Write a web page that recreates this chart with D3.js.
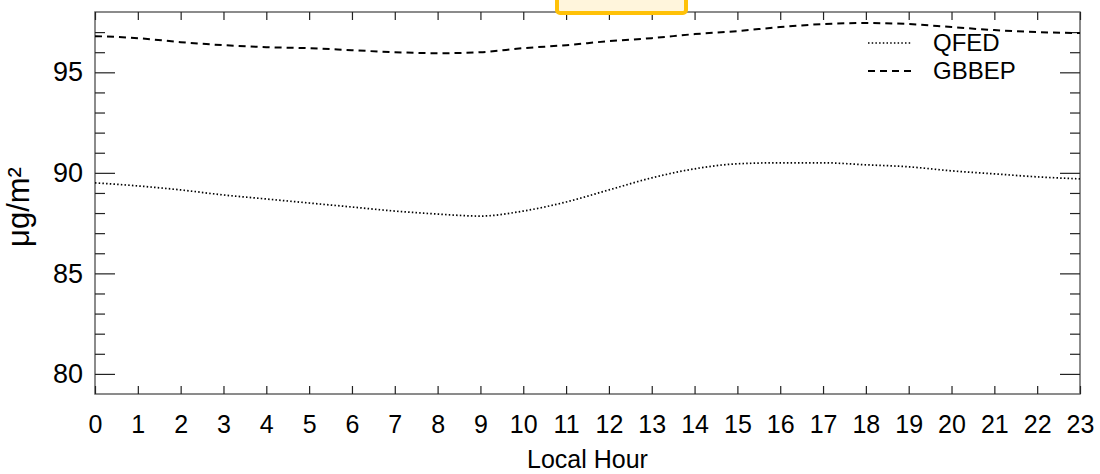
<!DOCTYPE html>
<html>
<head>
<meta charset="utf-8">
<script src="https://cdn.jsdelivr.net/npm/d3@7"></script>
<style>
  body { margin: 0; background: #fff; }
  text { font-family: "Liberation Sans", Arial, sans-serif; fill: #000; }
</style>
</head>
<body>
<svg id="chart" width="1100" height="474"></svg>
<script>
// hours of the day
var hours = d3.range(0, 24);
// diurnal mean, ug/m2
var qfed  = [89.5, 89.35, 89.15, 88.9, 88.7, 88.5, 88.3, 88.1, 87.95, 87.85, 88.1, 88.55,
             89.15, 89.75, 90.2, 90.45, 90.5, 90.5, 90.4, 90.3, 90.1, 89.95, 89.8, 89.7];
var gbbep = [96.8, 96.7, 96.5, 96.35, 96.25, 96.2, 96.1, 96.0, 95.95, 96.0, 96.2, 96.35,
             96.55, 96.7, 96.9, 97.05, 97.25, 97.4, 97.45, 97.4, 97.25, 97.1, 97.0, 96.95];
var yMajor = [80, 85, 90, 95];
var yMinor = [81, 82, 83, 84, 86, 87, 88, 89, 91, 92, 93, 94, 96, 97];
var seriesNames = ['QFED', 'GBBEP'];

var margin = {top: 12, right: 20, bottom: 80, left: 95},
    W = 1100, H = 474,
    width = W - margin.left - margin.right,
    height = H - margin.top - margin.bottom;

var svg = d3.select('#chart');
var g = svg.append('g')
    .attr('transform', 'translate(' + margin.left + ',' + margin.top + ')');

var x = d3.scaleLinear().domain([0, 23]).range([0, width]),
    y = d3.scaleLinear().domain([79, 98]).range([height, 0]);

// frame
g.append('rect')
    .attr('width', width).attr('height', height)
    .attr('fill', 'none').attr('stroke', '#666').attr('stroke-width', 1.5);

// x axes (ticks inward)
var xb = g.append('g').attr('class', 'x axis')
    .attr('transform', 'translate(0,' + height + ')')
    .call(d3.axisBottom(x).tickValues(hours).tickSize(-8).tickPadding(21).tickFormat(d3.format('d')));
g.append('g').attr('class', 'x axis top')
    .call(d3.axisTop(x).tickValues(hours).tickSize(-8).tickFormat(''));

// y axes
var yl = g.append('g').attr('class', 'y axis')
    .call(d3.axisLeft(y).tickValues(yMajor).tickSize(-20).tickPadding(12));
g.append('g').call(d3.axisLeft(y).tickValues(yMinor).tickSize(-10).tickFormat(''));
g.append('g').attr('transform', 'translate(' + width + ',0)')
    .call(d3.axisRight(y).tickValues(yMajor).tickSize(-20).tickFormat(''));
g.append('g').attr('transform', 'translate(' + width + ',0)')
    .call(d3.axisRight(y).tickValues(yMinor).tickSize(-10).tickFormat(''));

g.selectAll('.domain').remove();
g.selectAll('.tick line').attr('stroke', '#222').attr('stroke-width', 1.2);
xb.selectAll('text').style('font-size', '25px');
yl.selectAll('text').style('font-size', '27px');

// lines
var line = d3.line()
    .x(function (d, i) { return x(hours[i]); })
    .y(function (d) { return y(d); })
    .curve(d3.curveMonotoneX);

var styles = [
    {dash: '1.5,2.2', w: 1.7},
    {dash: '7,5', w: 2}
];

g.append('path').datum(qfed)
    .attr('d', line).attr('fill', 'none')
    .attr('stroke', '#000').attr('stroke-width', styles[0].w)
    .attr('stroke-dasharray', styles[0].dash);
g.append('path').datum(gbbep)
    .attr('d', line).attr('fill', 'none')
    .attr('stroke', '#000').attr('stroke-width', styles[1].w)
    .attr('stroke-dasharray', styles[1].dash);

// legend
var leg = g.append('g').attr('transform', 'translate(' + (width - 212) + ',31)');
seriesNames.forEach(function (name, i) {
    var row = leg.append('g').attr('transform', 'translate(0,' + (i * 28) + ')');
    row.append('line')
        .attr('x1', 0).attr('x2', 44)
        .attr('stroke', '#000').attr('stroke-width', styles[i].w)
        .attr('stroke-dasharray', styles[i].dash);
    row.append('text')
        .attr('x', 65).attr('y', 8)
        .style('font-size', '24px')
        .text(name);
});

// axis titles
g.append('text')
    .attr('x', width / 2).attr('y', height + 74)
    .attr('text-anchor', 'middle')
    .style('font-size', '25px')
    .text('Local Hour');

svg.append('text')
    .attr('transform', 'translate(29,207) rotate(-90)')
    .attr('text-anchor', 'middle')
    .style('font-size', '31px')
    .text('\u03bcg/m\u00b2');

// highlight box at top
svg.append('rect')
    .attr('x', 557).attr('y', -10)
    .attr('width', 129).attr('height', 23)
    .attr('rx', 3)
    .attr('fill', '#fff5dc')
    .attr('stroke', '#ffc107').attr('stroke-width', 4);
</script>
</body>
</html>
